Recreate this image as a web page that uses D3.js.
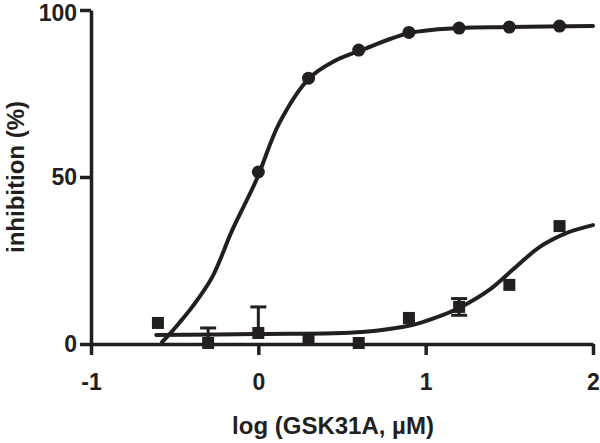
<!DOCTYPE html>
<html>
<head>
<meta charset="utf-8">
<script src="https://cdn.jsdelivr.net/npm/d3@7"></script>
<style>
  body { margin: 0; background: #fff; }
  text { font-family: "Liberation Sans", Arial, sans-serif; font-weight: bold; fill: #231f20; }
</style>
</head>
<body>
<div class="chart"></div>
<script>
// log concentrations
const logConc = [-0.6, -0.3, 0, 0.3, 0.6, 0.9, 1.2, 1.5, 1.8]

// circles (no points below 0 in the picture)
const circleX = [0, 0.3, 0.6, 0.9, 1.2, 1.5, 1.8]
const circleY = [51.5, 79.6, 88.0, 93.3, 94.6, 94.9, 95.2]

// squares with error bars
const squareY = [6.3, 0.3, 3.3, 1.2, 0.3, 7.8, 11.1, 17.7, 35.3]
const squareErrUp = [0, 4.5, 7.8, 0, 0, 0, 2.5, 0, 0]
const squareErrDown = [0, 0, 0, 0, 0, 0, 2.5, 0, 0]

// fitted curves
const fit1X = [-0.575, -0.551, -0.473, -0.395, -0.275, -0.156, -0.012, 0.126, 0.305, 0.45, 0.617, 0.904, 1.2, 1.5, 2.0]
const fit1Y = [0.6, 1.8, 6.3, 11.1, 20.1, 34.1, 49.1, 66.2, 79.6, 84.6, 88.0, 93.1, 94.6, 94.9, 95.2]
const fit2X = [-0.61, 0, 0.62, 0.92, 1.06, 1.2, 1.38, 1.52, 1.68, 1.84, 2.0]
const fit2Y = [2.7, 3.0, 3.6, 5.7, 7.9, 10.8, 16.2, 22.2, 29.0, 33.2, 35.6]

const xTicks = [-1, 0, 1, 2]
const yTicks = [0, 50, 100]

const ink = "#231f20"
const width = 600, height = 443

const x = d3.scaleLinear().domain([-1, 2]).range([91, 593])
const y = d3.scaleLinear().domain([0, 100]).range([344, 10])

const svg = d3.select(".chart").append("svg")
    .attr("width", width)
    .attr("height", height)

const xAxis = d3.axisBottom(x)
    .tickValues(xTicks)
    .tickFormat(d => String(d))
    .tickSize(11)
    .tickSizeOuter(0)
    .tickPadding(19)

const yAxis = d3.axisLeft(y)
    .tickValues(yTicks)
    .tickFormat(d => String(d))
    .tickSize(11)
    .tickSizeOuter(0)
    .tickPadding(3)

const gx = svg.append("g")
    .attr("transform", `translate(0,${y(0)})`)
    .call(xAxis)

const gy = svg.append("g")
    .attr("transform", `translate(${x(-1)},0)`)
    .call(yAxis)

for (const g of [gx, gy]) {
    g.select(".domain").attr("stroke", ink).attr("stroke-width", 3.5)
    g.selectAll(".tick line").attr("stroke", ink).attr("stroke-width", 3.5)
    g.selectAll(".tick text")
        .attr("fill", ink)
        .style("font-size", "23px")
        .style("font-family", "'Liberation Sans', Arial, sans-serif")
        .style("font-weight", "bold")
}
// keep the top label inside the frame
gy.select(".tick:last-of-type text").attr("dy", "0.45em")

// curves
const line = d3.line()
    .x(d => x(d[0]))
    .y(d => y(d[1]))
    .curve(d3.curveCatmullRom.alpha(0.5))

svg.append("path")
    .datum(fit1X.map((v, i) => [v, fit1Y[i]]))
    .attr("d", line)
    .attr("fill", "none")
    .attr("stroke", ink)
    .attr("stroke-width", 4)
    .attr("stroke-linecap", "round")

svg.append("path")
    .datum(fit2X.map((v, i) => [v, fit2Y[i]]))
    .attr("d", line)
    .attr("fill", "none")
    .attr("stroke", ink)
    .attr("stroke-width", 4)
    .attr("stroke-linecap", "round")

// error bars
const sq = logConc.map((v, i) => ({x: v, y: squareY[i], up: squareErrUp[i], down: squareErrDown[i]}))
const bars = svg.append("g").attr("stroke", ink).attr("stroke-width", 3)

sq.filter(d => d.up > 0).forEach(d => {
    bars.append("line").attr("x1", x(d.x)).attr("x2", x(d.x)).attr("y1", y(d.y)).attr("y2", y(d.y + d.up))
    bars.append("line").attr("x1", x(d.x) - 8).attr("x2", x(d.x) + 8).attr("y1", y(d.y + d.up)).attr("y2", y(d.y + d.up))
})
sq.filter(d => d.down > 0).forEach(d => {
    bars.append("line").attr("x1", x(d.x)).attr("x2", x(d.x)).attr("y1", y(d.y)).attr("y2", y(d.y - d.down))
    bars.append("line").attr("x1", x(d.x) - 8).attr("x2", x(d.x) + 8).attr("y1", y(d.y - d.down)).attr("y2", y(d.y - d.down))
})

// markers
svg.selectAll("rect.sq")
    .data(sq)
    .enter()
    .append("rect")
        .attr("class", "sq")
        .attr("x", d => x(d.x) - 6)
        .attr("y", d => y(d.y) - 6)
        .attr("width", 12)
        .attr("height", 12)
        .attr("fill", ink)

svg.selectAll("circle.pt")
    .data(circleX.map((v, i) => ({x: v, y: circleY[i]})))
    .enter()
    .append("circle")
        .attr("class", "pt")
        .attr("cx", d => x(d.x))
        .attr("cy", d => y(d.y))
        .attr("r", 6.5)
        .attr("fill", ink)

// axis titles
svg.append("text")
    .attr("x", 333)
    .attr("y", 434)
    .attr("text-anchor", "middle")
    .style("font-size", "24px")
    .text("log (GSK31A, µM)")

svg.append("text")
    .attr("transform", "translate(24,177) rotate(-90)")
    .attr("text-anchor", "middle")
    .style("font-size", "24px")
    .text("inhibition (%)")
</script>
</body>
</html>
